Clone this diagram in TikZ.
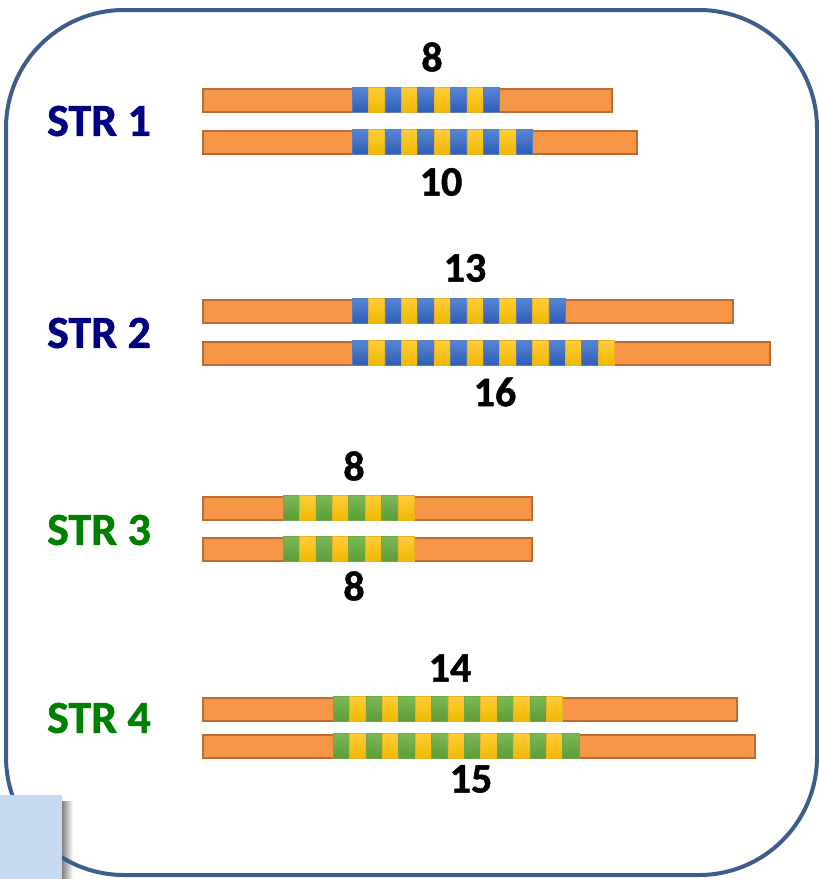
\documentclass[tikz,border=0pt]{standalone}
\usepackage{fontspec}
\setmainfont{Carlito}[BoldFeatures={FakeBold=1.2}]
\begin{document}
\begin{tikzpicture}[x=1pt,y=-1pt,
  frame/.style={draw={rgb,255:red,59;green,94;blue,140},line width=4pt,rounded corners=118pt},
  dnabar/.style={draw={rgb,255:red,186;green,108;blue,52},line width=2pt,fill={rgb,255:red,247;green,150;blue,70}},
  blueunit/.style={draw={rgb,255:red,86;green,124;blue,194},line width=0.6pt,top color={rgb,255:red,88;green,134;blue,214},bottom color={rgb,255:red,46;green,94;blue,182}},
  yellowunit/.style={draw={rgb,255:red,238;green,176;blue,40},line width=0.6pt,top color={rgb,255:red,255;green,206;blue,60},bottom color={rgb,255:red,240;green,184;blue,0}},
  greenunit/.style={draw={rgb,255:red,110;green,168;blue,76},line width=0.6pt,top color={rgb,255:red,124;green,184;blue,88},bottom color={rgb,255:red,92;green,158;blue,54}},
  strlabel/.style={font=\bfseries\fontsize{46}{50}\selectfont,inner sep=0pt},
  countlabel/.style={font=\bfseries\fontsize{42}{46}\selectfont,inner sep=0pt,text=black}]
\useasboundingbox (0,0) rectangle (819,879);

% drop shadow of the corner tab
\shade[left color=black!50,right color=white] (62,801) rectangle (73,879);

% outer frame
\draw[frame] (6,10) rectangle (817,875);

% corner tab
\fill[fill={rgb,255:red,197;green,217;blue,241}] (0,795) rectangle (62,879);

% a DNA strand: #1 name, #2 top y, #3 right x, #4 repeat start x, #5 repeat count, #6 odd unit style, #7 even unit style
\newcommand\strand[7]{%
  \node[dnabar,minimum width={#3-202},minimum height=23pt,inner sep=0pt,anchor=north west] (#1) at (202,#2) {};
  \foreach \k in {1,...,#5}{%
    \pgfmathsetmacro\xa{#4+(\k-1)*16.4}%
    \pgfmathsetmacro\xb{\xa+16.4}%
    \ifodd\k
      \path[#6] (\xa,#2-1) rectangle (\xb,#2+24);
    \else
      \path[#7] (\xa,#2-1) rectangle (\xb,#2+24);
    \fi
  }%
}

% STR 1
\strand{s1a}{88}{611}{352}{9}{blueunit}{yellowunit}
\strand{s1b}{130}{636}{352}{11}{blueunit}{yellowunit}
\node[strlabel,text={rgb,255:red,0;green,0;blue,128}] (l1) at (99,121) {STR 1};
\node[countlabel] (n1a) at (432,57) {8};
\node[countlabel] (n1b) at (441,182) {10};

% STR 2
\strand{s2a}{299}{732}{352}{13}{blueunit}{yellowunit}
\strand{s2b}{341}{769}{352}{16}{blueunit}{yellowunit}
\node[strlabel,text={rgb,255:red,0;green,0;blue,128}] (l2) at (99,333) {STR 2};
\node[countlabel] (n2a) at (465,268) {13};
\node[countlabel] (n2b) at (495,392) {16};

% STR 3
\strand{s3a}{496}{531}{283}{8}{greenunit}{yellowunit}
\strand{s3b}{537}{531}{283}{8}{greenunit}{yellowunit}
\node[strlabel,text={rgb,255:red,0;green,128;blue,0}] (l3) at (99,530) {STR 3};
\node[countlabel] (n3a) at (354,466) {8};
\node[countlabel] (n3b) at (354,586) {8};

% STR 4
\strand{s4a}{697}{736}{333}{14}{greenunit}{yellowunit}
\strand{s4b}{734}{754}{333}{15}{greenunit}{yellowunit}
\node[strlabel,text={rgb,255:red,0;green,128;blue,0}] (l4) at (99,718) {STR 4};
\node[countlabel] (n4a) at (450,668) {14};
\node[countlabel] (n4b) at (471,779) {15};
\end{tikzpicture}
\end{document}
